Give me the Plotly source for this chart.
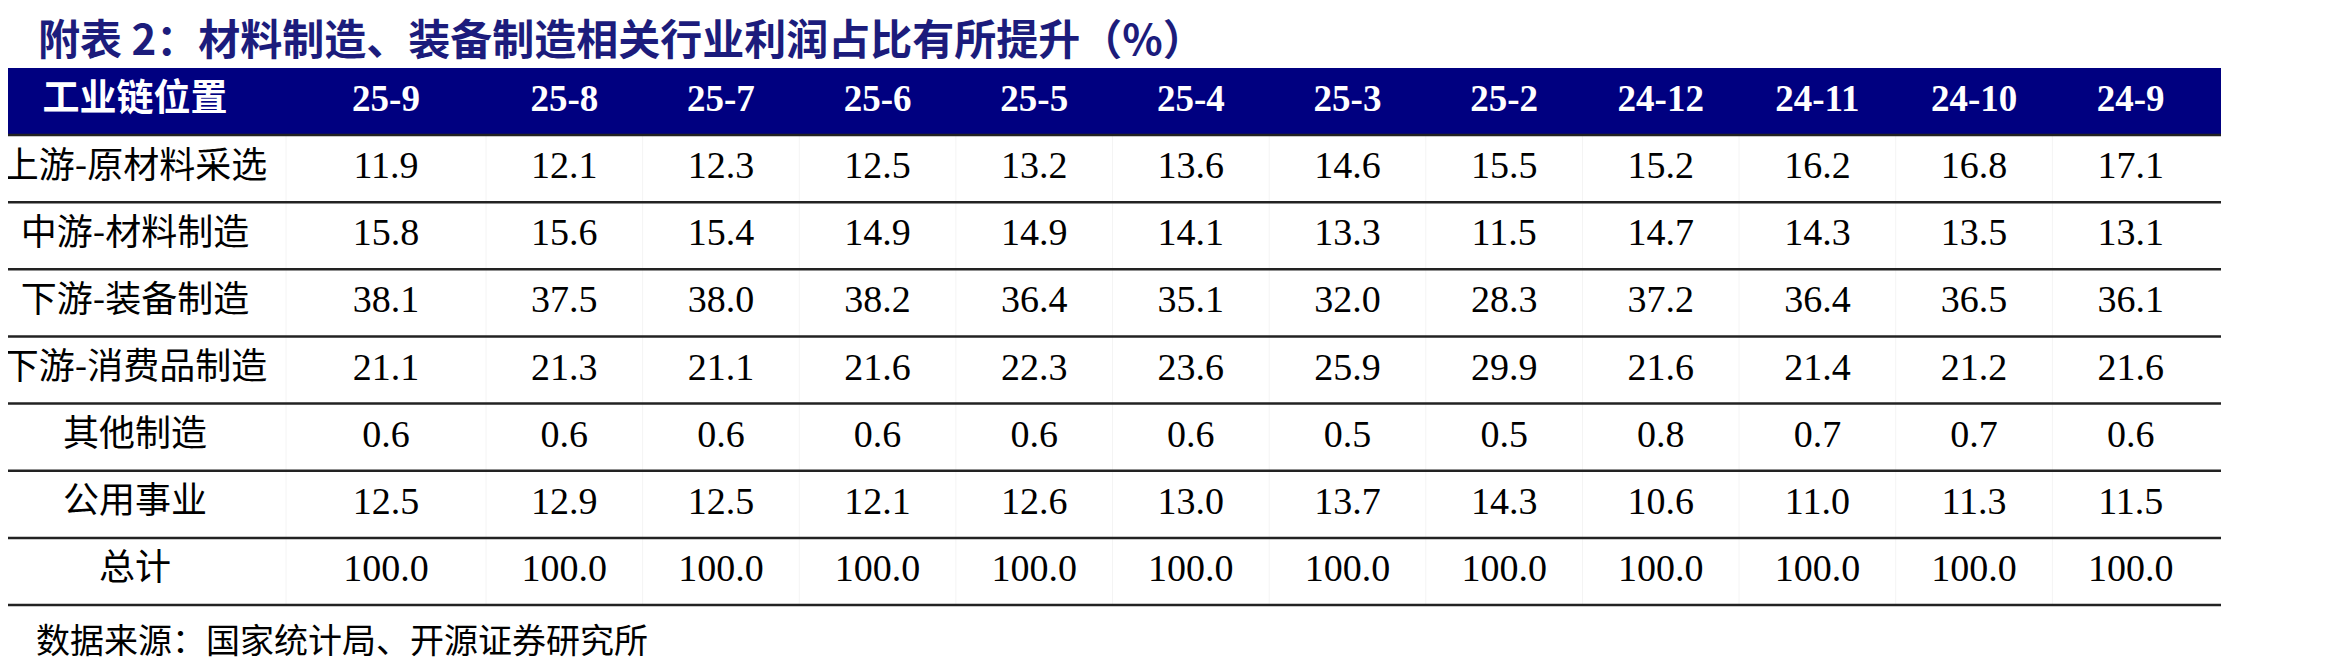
import plotly.graph_objects as go

# data
periods = ['25-9', '25-8', '25-7', '25-6', '25-5', '25-4', '25-3', '25-2', '24-12', '24-11', '24-10', '24-9']
rows = ['上游-原材料采选', '中游-材料制造', '下游-装备制造', '下游-消费品制造', '其他制造', '公用事业', '总计']
upstream = [11.9, 12.1, 12.3, 12.5, 13.2, 13.6, 14.6, 15.5, 15.2, 16.2, 16.8, 17.1]
midstream = [15.8, 15.6, 15.4, 14.9, 14.9, 14.1, 13.3, 11.5, 14.7, 14.3, 13.5, 13.1]
downstream_equip = [38.1, 37.5, 38.0, 38.2, 36.4, 35.1, 32.0, 28.3, 37.2, 36.4, 36.5, 36.1]
downstream_consumer = [21.1, 21.3, 21.1, 21.6, 22.3, 23.6, 25.9, 29.9, 21.6, 21.4, 21.2, 21.6]
other_mfg = [0.6, 0.6, 0.6, 0.6, 0.6, 0.6, 0.5, 0.5, 0.8, 0.7, 0.7, 0.6]
utilities = [12.5, 12.9, 12.5, 12.1, 12.6, 13.0, 13.7, 14.3, 10.6, 11.0, 11.3, 11.5]
total = [100.0] * 12
table = [upstream, midstream, downstream_equip, downstream_consumer, other_mfg, utilities, total]

W, H = 2327, 660
HDR_TOP, HDR_BOT = 60, 127
ROW_H = 67.15
LABEL_X = 127
COL1_L, COL1_R, TABLE_R = 278, 478, 2213
col_w = (TABLE_R - 12 - COL1_R) / (len(periods) - 1)
col_x = [(COL1_L + COL1_R) / 2] + [COL1_R + col_w * (i + 0.5) for i in range(len(periods) - 1)]
row_y = [HDR_BOT + ROW_H * (i + 0.5) for i in range(len(rows))]
hdr_y = (HDR_TOP + HDR_BOT) / 2

fig = go.Figure()

# header text
fig.add_trace(go.Scatter(
    x=[LABEL_X] + col_x, y=[hdr_y] * (len(periods) + 1),
    text=['<b>工业链位置</b>'] + ['<b>%s</b>' % p for p in periods],
    mode='text', textfont=dict(family='Liberation Serif, Noto Sans CJK SC', size=37, color='white'),
    cliponaxis=False, hoverinfo='skip'))

# row labels
fig.add_trace(go.Scatter(
    x=[LABEL_X] * len(rows), y=row_y, text=rows, mode='text',
    textfont=dict(family='Noto Sans CJK SC', size=36, color='black'),
    cliponaxis=False, hoverinfo='skip'))

# values
xs, ys, ts = [], [], []
for r, vals in enumerate(table):
    for c, v in enumerate(vals):
        xs.append(col_x[c])
        ys.append(row_y[r])
        ts.append('%.1f' % v)
fig.add_trace(go.Scatter(
    x=xs, y=ys, text=ts, mode='text',
    textfont=dict(family='Liberation Serif', size=38, color='black'),
    cliponaxis=False, hoverinfo='skip'))

shapes = [dict(type='rect', xref='x', yref='y', x0=0, x1=TABLE_R, y0=HDR_TOP, y1=HDR_BOT,
               fillcolor='#000080', line=dict(width=0), layer='below')]
for i in range(len(rows) + 1):
    y = HDR_BOT + ROW_H * i
    shapes.append(dict(type='line', xref='x', yref='y', x0=0, x1=TABLE_R, y0=y, y1=y,
                       line=dict(color='#222222', width=2.5)))
for x in [COL1_L, COL1_R] + [COL1_R + col_w * i for i in range(1, len(periods) - 1)]:
    shapes.append(dict(type='line', xref='x', yref='y', x0=x, x1=x, y0=HDR_BOT, y1=HDR_BOT + ROW_H * len(rows),
                       line=dict(color='#f4f4f4', width=1), layer='below'))

fig.update_layout(
    width=W, height=H, margin=dict(l=0, r=0, t=0, b=0),
    paper_bgcolor='white', plot_bgcolor='white', showlegend=False,
    xaxis=dict(range=[0, W], visible=False, fixedrange=True),
    yaxis=dict(range=[H, 0], visible=False, fixedrange=True),
    shapes=shapes,
    annotations=[
        dict(text='<b>附表 2：材料制造、装备制造相关行业利润占比有所提升（%）</b>', x=28, y=28,
             xref='x', yref='y', xanchor='left', yanchor='middle', showarrow=False,
             font=dict(family='Noto Sans CJK SC', size=42, color='#1c1c7c')),
        dict(text='数据来源：国家统计局、开源证券研究所', x=26, y=630,
             xref='x', yref='y', xanchor='left', yanchor='middle', showarrow=False,
             font=dict(family='Noto Sans CJK SC', size=34, color='black')),
    ],
)
fig.write_html('out.html')
